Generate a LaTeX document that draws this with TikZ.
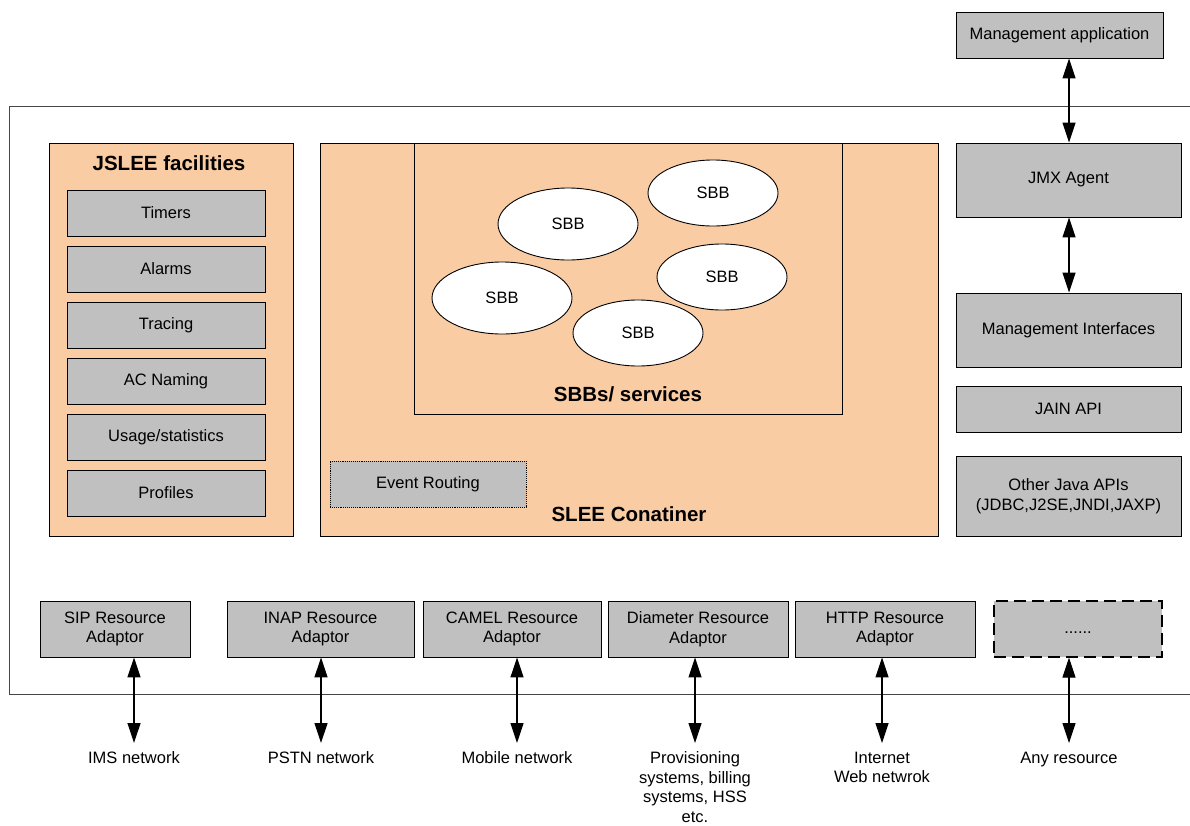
\documentclass[tikz,border=0pt]{standalone}
\usepackage{fontspec}
\setmainfont{Liberation Sans}
\usetikzlibrary{arrows.meta}
\definecolor{peach}{RGB}{250,204,164}
\definecolor{boxgray}{RGB}{192,192,192}
\definecolor{framegray}{RGB}{70,70,70}
\tikzset{
  gbox/.style={draw=black, fill=boxgray, line width=0.9pt, inner sep=0pt, align=center, font=\fontsize{16.5}{19.5}\selectfont},
  pbox/.style={draw=black, fill=peach, line width=0.9pt},
  dbl/.style={{Triangle[width=13pt,length=20pt]}-{Triangle[width=13pt,length=20pt]}, line width=1.2pt},
  lbl/.style={align=center, font=\fontsize{16.5}{19.5}\selectfont, inner sep=0pt, anchor=north},
  netlbl/.style={lbl, outer ysep=9pt},
  ttl/.style={font=\bfseries\fontsize{20.5}{24}\selectfont, inner sep=0pt}
}
\begin{document}
\begin{tikzpicture}[x=1pt,y=-1pt]
\useasboundingbox (0,0) rectangle (1190,825);
% outer frame
\draw[framegray, line width=1pt] (1190,106) -- (9,106) -- (9,694) -- (1190,694);
% management application
\node[gbox, minimum width=207pt, minimum height=46pt] (mapp) at (1059.5,35) {Management application};
% JSLEE facilities
\node[pbox, minimum width=244pt, minimum height=393pt, inner sep=0pt] (jslee) at (171,339.5) {};
\node[ttl] (jsleet) at (169,163) {JSLEE facilities};
\node[gbox, minimum width=198pt, minimum height=46pt] (timers) at (166,213) {Timers};
\node[gbox, minimum width=198pt, minimum height=46pt] (alarms) at (166,269) {Alarms};
\node[gbox, minimum width=198pt, minimum height=46pt] (tracing) at (166,325) {Tracing};
\node[gbox, minimum width=198pt, minimum height=46pt] (acn) at (166,381) {AC Naming};
\node[gbox, minimum width=198pt, minimum height=46pt] (usage) at (166,437) {Usage/statistics};
\node[gbox, minimum width=198pt, minimum height=46pt] (prof) at (166,493) {Profiles};
% SLEE container
\node[pbox, minimum width=618pt, minimum height=393pt, inner sep=0pt] (slee) at (629,339.5) {};
\node[ttl] (sleet) at (629,514) {SLEE Conatiner};
\node[pbox, minimum width=428pt, minimum height=271pt, inner sep=0pt] (sbbs) at (628,278.5) {};
\node[ttl] (sbbst) at (628,394) {SBBs/ services};
% SBB ellipses
\draw[line width=0.9pt, fill=white] (568,224) ellipse [x radius=70pt, y radius=36pt];
\node[lbl, anchor=center] (s1) at (568,224) {SBB};
\draw[line width=0.9pt, fill=white] (713,193) ellipse [x radius=65pt, y radius=33pt];
\node[lbl, anchor=center] (s2) at (713,193) {SBB};
\draw[line width=0.9pt, fill=white] (502,298) ellipse [x radius=70pt, y radius=36pt];
\node[lbl, anchor=center] (s3) at (502,298) {SBB};
\draw[line width=0.9pt, fill=white] (722,277) ellipse [x radius=65pt, y radius=33pt];
\node[lbl, anchor=center] (s4) at (722,277) {SBB};
\draw[line width=0.9pt, fill=white] (638,333) ellipse [x radius=65pt, y radius=33pt];
\node[lbl, anchor=center] (s5) at (638,333) {SBB};
% event routing
\node[gbox, densely dotted, minimum width=196pt, minimum height=46pt] (evr) at (428,484) {Event Routing};
% right column
\node[gbox, minimum width=225pt, minimum height=74pt] (jmx) at (1068.5,180) {JMX Agent};
\node[gbox, minimum width=225pt, minimum height=74pt] (mgi) at (1068.5,330) {Management Interfaces};
\node[gbox, minimum width=225pt, minimum height=46pt] (jain) at (1068.5,409) {JAIN API};
\node[gbox, minimum width=225pt, minimum height=80pt] (oja) at (1068.5,496) {Other Java APIs\\(JDBC,J2SE,JNDI,JAXP)};
\draw[dbl] (mapp.south -| 1069,0) -- (jmx.north -| 1069,0);
\draw[dbl] (jmx.south -| 1069,0) -- (mgi.north -| 1069,0);
% resource adaptors
\node[gbox, minimum width=150pt, minimum height=56pt] (sip) at (115,629) {SIP Resource\\Adaptor};
\node[gbox, minimum width=187pt, minimum height=56pt] (inap) at (320.5,629) {INAP Resource\\Adaptor};
\node[gbox, minimum width=178pt, minimum height=56pt] (camel) at (512,629) {CAMEL Resource\\Adaptor};
\node[gbox, minimum width=180pt, minimum height=56pt] (diam) at (698,629) {Diameter Resource\\Adaptor};
\node[gbox, minimum width=180pt, minimum height=56pt] (http) at (885,629) {HTTP Resource\\Adaptor};
\node[gbox, dash pattern=on 12pt off 6pt, line width=1.2pt, minimum width=168pt, minimum height=56pt] (oth) at (1078,629) {\smash{\raisebox{-4pt}{......}}};
% network labels
\node[netlbl] (ims) at (134,743) {IMS network};
\node[netlbl] (pstn) at (321,743) {PSTN network};
\node[netlbl] (mob) at (517,743) {Mobile network};
\node[netlbl] (prov) at (695,743) {Provisioning\\systems, billing\\systems, HSS\\etc.};
\node[netlbl] (inet) at (882,743) {Internet\\Web netwrok};
\node[netlbl] (anyr) at (1069,743) {Any resource};
% arrows
\draw[dbl] (sip.south -| 134,0) -- (ims.north);
\draw[dbl] (inap.south -| 321,0) -- (pstn.north);
\draw[dbl] (camel.south -| 517,0) -- (mob.north);
\draw[dbl] (diam.south -| 695,0) -- (prov.north);
\draw[dbl] (http.south -| 882,0) -- (inet.north);
\draw[dbl] (oth.south -| 1069,0) -- (anyr.north);
\end{tikzpicture}
\end{document}
